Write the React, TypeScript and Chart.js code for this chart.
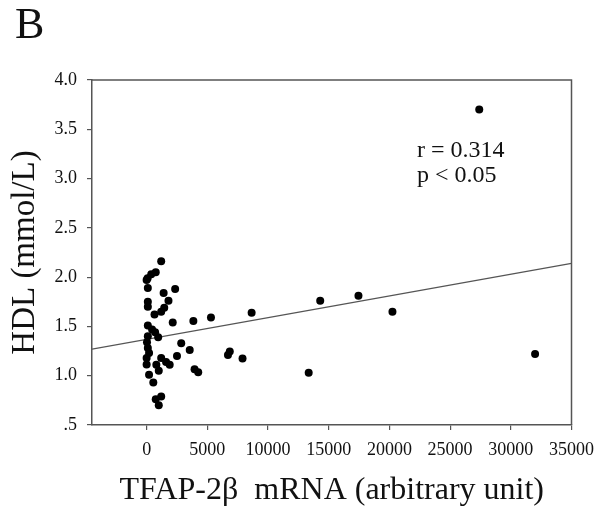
import React, { useEffect, useRef } from 'react';
import { Chart, registerables } from 'chart.js';

Chart.register(...registerables);

// TFAP-2β mRNA (arbitrary unit)
const tfapMrna = [
  1200, 750, 380, 80, 100, 1400, 2350, 1800, 100, 100,
  1450, 1200, 650, 2150, 3850, 5300, 8650, 100, 450, 700,
  100, 950, 30, 2850, 100, 200, 3550, 0, 1200, 2500,
  1600, 1900, 0, 800, 3950, 4250, 1000, 200, 550, 1200,
  750, 1000, 14300, 17450, 20250, 13350, 32000, 6850, 6700, 7900,
  27400, 0,
];
// HDL (mmol/L)
const hdlValues = [
  2.16, 2.05, 2.03, 1.99, 1.89, 1.84, 1.88, 1.76, 1.75, 1.7,
  1.69, 1.65, 1.62, 1.54, 1.555, 1.59, 1.64, 1.51, 1.47, 1.44,
  1.4, 1.39, 1.34, 1.33, 1.28, 1.23, 1.26, 1.18, 1.18, 1.2,
  1.14, 1.11, 1.115, 1.11, 1.065, 1.035, 1.05, 1.01, 0.93, 0.79,
  0.76, 0.7, 1.76, 1.81, 1.65, 1.03, 1.22, 1.245, 1.21, 1.175,
  3.7, 1.97,
];

const xTickValues = [0, 5000, 10000, 15000, 20000, 25000, 30000, 35000];
const yTickValues = [0.5, 1.0, 1.5, 2.0, 2.5, 3.0, 3.5, 4.0];
const xRange = [-4500, 35000];
const yRange = [0.5, 4.0];

// regression line  HDL = intercept + slope * mRNA
const regIntercept = 1.369;
const regSlope = 2.2e-5;

const panelLabel = 'B';
const statLines = ['r = 0.314', 'p < 0.05'];
const xTitle = 'TFAP-2β  mRNA (arbitrary unit)';
const yTitle = 'HDL (mmol/L)';

const FONT = "'Liberation Serif', 'Times New Roman', serif";
const AXIS_COLOR = '#555';

const framePlugin = {
  id: 'frameAndText',
  afterDraw(chart: any) {
    const { ctx, chartArea } = chart;
    ctx.save();
    ctx.strokeStyle = AXIS_COLOR;
    ctx.lineWidth = 1.5;
    ctx.beginPath();
    ctx.moveTo(chartArea.left, chartArea.top);
    ctx.lineTo(chartArea.right, chartArea.top);
    ctx.lineTo(chartArea.right, chartArea.bottom);
    ctx.stroke();

    ctx.fillStyle = '#111';
    ctx.textAlign = 'left';
    ctx.textBaseline = 'alphabetic';
    ctx.font = `44px ${FONT}`;
    ctx.fillText(panelLabel, 15, 38);

    ctx.font = `24px ${FONT}`;
    ctx.fillText(statLines[0], 417, 157);
    ctx.fillText(statLines[1], 417, 182);
    ctx.restore();
  },
};

export default function App() {
  const ref = useRef<HTMLCanvasElement | null>(null);

  useEffect(() => {
    if (!ref.current) return;
    const points = tfapMrna.map((x, i) => ({ x, y: hdlValues[i] }));
    const regLine = xRange.map((x) => ({ x, y: regIntercept + regSlope * x }));

    const chart = new Chart(ref.current, {
      type: 'scatter',
      data: {
        datasets: [
          {
            data: points,
            backgroundColor: '#000',
            borderWidth: 0,
            pointRadius: 4,
            pointHoverRadius: 4,
          },
          {
            type: 'line',
            data: regLine,
            borderColor: '#555',
            borderWidth: 1.2,
            pointRadius: 0,
            fill: false,
          } as any,
        ],
      },
      options: {
        responsive: false,
        animation: false,
        devicePixelRatio: 1,
        layout: { padding: { top: 80, right: 31, left: 0, bottom: 0 } },
        plugins: {
          legend: { display: false },
          tooltip: { enabled: false },
          title: { display: false },
        },
        scales: {
          x: {
            type: 'linear',
            min: xRange[0],
            max: xRange[1],
            afterBuildTicks: (s: any) => {
              s.ticks = xTickValues.map((v) => ({ value: v }));
            },
            afterFit: (s: any) => {
              s.height = 85;
            },
            ticks: {
              color: '#111',
              font: { family: FONT, size: 18 },
              padding: 9,
              maxRotation: 0,
              autoSkip: false,
              callback: (v: any) => String(v),
            },
            grid: {
              display: true,
              drawOnChartArea: false,
              drawTicks: true,
              tickLength: 5,
              color: AXIS_COLOR,
              lineWidth: 1.2,
            },
            border: { display: true, color: AXIS_COLOR, width: 1.5 },
            title: {
              display: true,
              text: xTitle,
              color: '#111',
              font: { family: FONT, size: 32 },
              padding: { top: 0, bottom: 0 },
            },
          },
          y: {
            type: 'linear',
            min: yRange[0],
            max: yRange[1],
            afterBuildTicks: (s: any) => {
              s.ticks = yTickValues.map((v) => ({ value: v }));
            },
            afterFit: (s: any) => {
              s.width = 92;
            },
            ticks: {
              color: '#111',
              font: { family: FONT, size: 18 },
              padding: 10,
              autoSkip: false,
              callback: (v: any) => (v === 0.5 ? '.5' : Number(v).toFixed(1)),
            },
            grid: {
              display: true,
              drawOnChartArea: false,
              drawTicks: true,
              tickLength: 5,
              color: AXIS_COLOR,
              lineWidth: 1.2,
            },
            border: { display: true, color: AXIS_COLOR, width: 1.5 },
            title: {
              display: true,
              text: yTitle,
              color: '#111',
              font: { family: FONT, size: 33 },
              padding: { top: 6, bottom: 0 },
            },
          },
        },
      },
      plugins: [framePlugin],
    });

    return () => chart.destroy();
  }, []);

  return (
    <div style={{ position: 'absolute', left: 0, top: 0, width: 603, height: 510, background: '#fff' }}>
      <canvas ref={ref} width={603} height={510} style={{ display: 'block' }} />
    </div>
  );
}
